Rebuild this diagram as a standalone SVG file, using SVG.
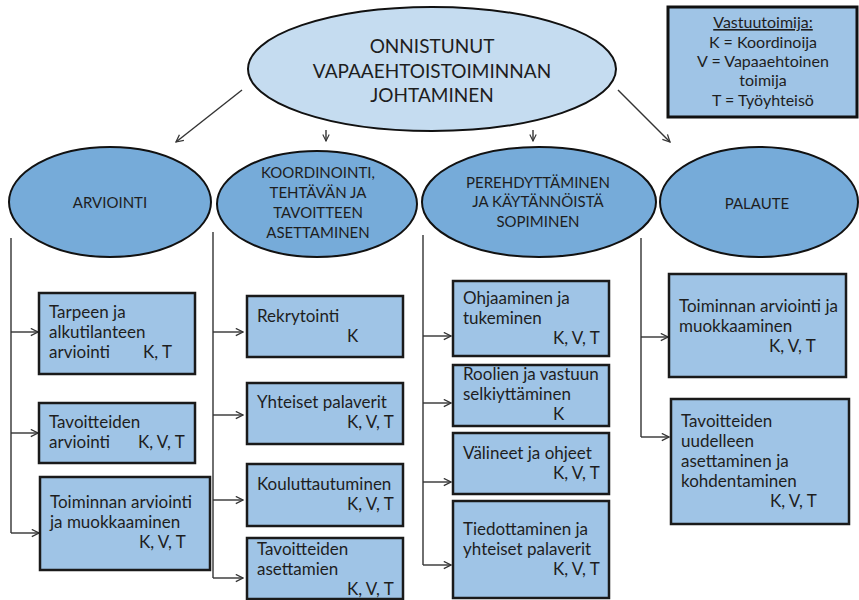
<svg xmlns="http://www.w3.org/2000/svg" width="859" height="600" viewBox="0 0 859 600">
<defs>
<marker id="ah" viewBox="0 0 10 10" refX="9" refY="5" markerWidth="9" markerHeight="9" markerUnits="userSpaceOnUse" orient="auto">
<path d="M1,1 L9,5 L1,9" fill="none" stroke="#333" stroke-width="1.4"/>
</marker>
<marker id="ahs" viewBox="0 0 10 10" refX="9" refY="5" markerWidth="8" markerHeight="8" markerUnits="userSpaceOnUse" orient="auto">
<path d="M1,1 L9,5 L1,9" fill="none" stroke="#333" stroke-width="1.4"/>
</marker>
</defs>
<style>
text{font-family:Lato,"Liberation Sans",sans-serif;fill:#1e1e1e;}
.t1{font-size:19px;text-anchor:middle;}
.t2{font-size:15px;text-anchor:middle;}
.tb{font-size:17px;}
.tl{font-size:16px;text-anchor:middle;}
.top{fill:#c5dcf0;stroke:#111;stroke-width:2;}
.mid{fill:#76abd9;stroke:#111;stroke-width:2;}
.box{fill:#9fc4e6;stroke:#1a1a1a;stroke-width:2.5;}
.leg{fill:#9fc4e6;stroke:#111;stroke-width:3;}
.c{fill:none;stroke:#333;stroke-width:1.4;}
</style>
<rect width="859" height="600" fill="#ffffff"/>
<g id="connectors">
<line class="c" x1="242" y1="90" x2="176" y2="142" marker-end="url(#ah)"/>
<line class="c" x1="326" y1="130" x2="326" y2="141" marker-end="url(#ahs)"/>
<line class="c" x1="533" y1="130" x2="533" y2="141" marker-end="url(#ahs)"/>
<line class="c" x1="618" y1="90" x2="670" y2="142" marker-end="url(#ah)"/>
<path class="c" d="M11,238 V533"/>
<line class="c" x1="11" y1="332" x2="38" y2="332" marker-end="url(#ah)"/>
<line class="c" x1="11" y1="433" x2="38" y2="433" marker-end="url(#ah)"/>
<line class="c" x1="11" y1="533" x2="39" y2="533" marker-end="url(#ah)"/>
<path class="c" d="M213,232 V578"/>
<line class="c" x1="213" y1="332" x2="243" y2="332" marker-end="url(#ah)"/>
<line class="c" x1="213" y1="415" x2="243" y2="415" marker-end="url(#ah)"/>
<line class="c" x1="213" y1="500" x2="243" y2="500" marker-end="url(#ah)"/>
<line class="c" x1="213" y1="578" x2="243" y2="578" marker-end="url(#ah)"/>
<path class="c" d="M423,235 V565"/>
<line class="c" x1="423" y1="336" x2="451" y2="336" marker-end="url(#ah)"/>
<line class="c" x1="423" y1="403" x2="451" y2="403" marker-end="url(#ah)"/>
<line class="c" x1="423" y1="482" x2="451" y2="482" marker-end="url(#ah)"/>
<line class="c" x1="423" y1="565" x2="451" y2="565" marker-end="url(#ah)"/>
<path class="c" d="M641,238 V437"/>
<line class="c" x1="641" y1="337" x2="668" y2="337" marker-end="url(#ah)"/>
<line class="c" x1="641" y1="437" x2="669" y2="437" marker-end="url(#ah)"/>
</g>
<g id="main">
<ellipse class="top" cx="432" cy="69" rx="184" ry="62"/>
<text class="t1" x="432" y="53">ONNISTUNUT</text>
<text class="t1" x="432" y="78">VAPAAEHTOISTOIMINNAN</text>
<text class="t1" x="432" y="102">JOHTAMINEN</text>
</g>
<g id="legend">
<rect class="leg" x="668" y="7" width="189" height="110"/>
<text class="tl" x="763" y="28" text-decoration="underline">Vastuutoimija:</text>
<text class="tl" x="763" y="48">K = Koordinoija</text>
<text class="tl" x="763" y="67">V = Vapaaehtoinen</text>
<text class="tl" x="763" y="86">toimija</text>
<text class="tl" x="763" y="106">T = Työyhteisö</text>
</g>
<g id="arviointi">
<ellipse class="mid" cx="110" cy="202" rx="101" ry="55"/>
<text class="t2" x="110" y="208">ARVIOINTI</text>
</g>
<g id="koordinointi">
<ellipse class="mid" cx="317" cy="204" rx="100" ry="53"/>
<text class="t2" x="318" y="178">KOORDINOINTI,</text>
<text class="t2" x="318" y="198">TEHTÄVÄN JA</text>
<text class="t2" x="318" y="218">TAVOITTEEN</text>
<text class="t2" x="318" y="238">ASETTAMINEN</text>
</g>
<g id="perehdyttaminen">
<ellipse class="mid" cx="539" cy="202" rx="117" ry="55"/>
<text class="t2" x="538" y="188">PEREHDYTTÄMINEN</text>
<text class="t2" x="538" y="207">JA KÄYTÄNNÖISTÄ</text>
<text class="t2" x="538" y="227">SOPIMINEN</text>
</g>
<g id="palaute">
<ellipse class="mid" cx="759" cy="202" rx="99" ry="55"/>
<text class="t2" x="757" y="209">PALAUTE</text>
</g>
<g id="b1">
<rect class="box" x="39" y="293" width="156" height="81"/>
<text class="tb" x="49" y="318">Tarpeen ja</text>
<text class="tb" x="49" y="338">alkutilanteen</text>
<text class="tb" x="49" y="358">arviointi</text>
<text class="tb" x="143" y="358">K, T</text>
</g>
<g id="b2">
<rect class="box" x="39" y="403" width="156" height="60"/>
<text class="tb" x="49" y="428">Tavoitteiden</text>
<text class="tb" x="49" y="448">arviointi</text>
<text class="tb" x="138" y="448">K, V, T</text>
</g>
<g id="b3">
<rect class="box" x="40" y="477" width="170" height="93"/>
<text class="tb" x="50" y="508">Toiminnan arviointi</text>
<text class="tb" x="50" y="528">ja muokkaaminen</text>
<text class="tb" x="139" y="548">K, V, T</text>
</g>
<g id="b4">
<rect class="box" x="247" y="296" width="156" height="61"/>
<text class="tb" x="257" y="322">Rekrytointi</text>
<text class="tb" x="347" y="342">K</text>
</g>
<g id="b5">
<rect class="box" x="247" y="383" width="156" height="61"/>
<text class="tb" x="257" y="408">Yhteiset palaverit</text>
<text class="tb" x="347" y="428">K, V, T</text>
</g>
<g id="b6">
<rect class="box" x="247" y="464" width="156" height="62"/>
<text class="tb" x="257" y="490">Kouluttautuminen</text>
<text class="tb" x="347" y="510">K, V, T</text>
</g>
<g id="b7">
<rect class="box" x="247" y="538" width="156" height="61"/>
<text class="tb" x="257" y="555">Tavoitteiden</text>
<text class="tb" x="257" y="575">asettamien</text>
<text class="tb" x="347" y="595">K, V, T</text>
</g>
<g id="b8">
<rect class="box" x="453" y="281" width="156" height="75"/>
<text class="tb" x="463" y="304">Ohjaaminen ja</text>
<text class="tb" x="463" y="324">tukeminen</text>
<text class="tb" x="553" y="344">K, V, T</text>
</g>
<g id="b9">
<rect class="box" x="453" y="365" width="156" height="61"/>
<text class="tb" x="463" y="380">Roolien ja vastuun</text>
<text class="tb" x="463" y="400">selkiyttäminen</text>
<text class="tb" x="553" y="420">K</text>
</g>
<g id="b10">
<rect class="box" x="453" y="433" width="156" height="61"/>
<text class="tb" x="463" y="459">Välineet ja ohjeet</text>
<text class="tb" x="553" y="479">K, V, T</text>
</g>
<g id="b11">
<rect class="box" x="453" y="501" width="156" height="97"/>
<text class="tb" x="463" y="535">Tiedottaminen ja</text>
<text class="tb" x="463" y="555">yhteiset palaverit</text>
<text class="tb" x="553" y="575">K, V, T</text>
</g>
<g id="b12">
<rect class="box" x="669" y="274" width="177" height="103"/>
<text class="tb" x="679" y="312">Toiminnan arviointi ja</text>
<text class="tb" x="679" y="332">muokkaaminen</text>
<text class="tb" x="769" y="352">K, V, T</text>
</g>
<g id="b13">
<rect class="box" x="671" y="399" width="178" height="125"/>
<text class="tb" x="681" y="427">Tavoitteiden</text>
<text class="tb" x="681" y="447">uudelleen</text>
<text class="tb" x="681" y="467">asettaminen ja</text>
<text class="tb" x="681" y="487">kohdentaminen</text>
<text class="tb" x="770" y="507">K, V, T</text>
</g>
</svg>
